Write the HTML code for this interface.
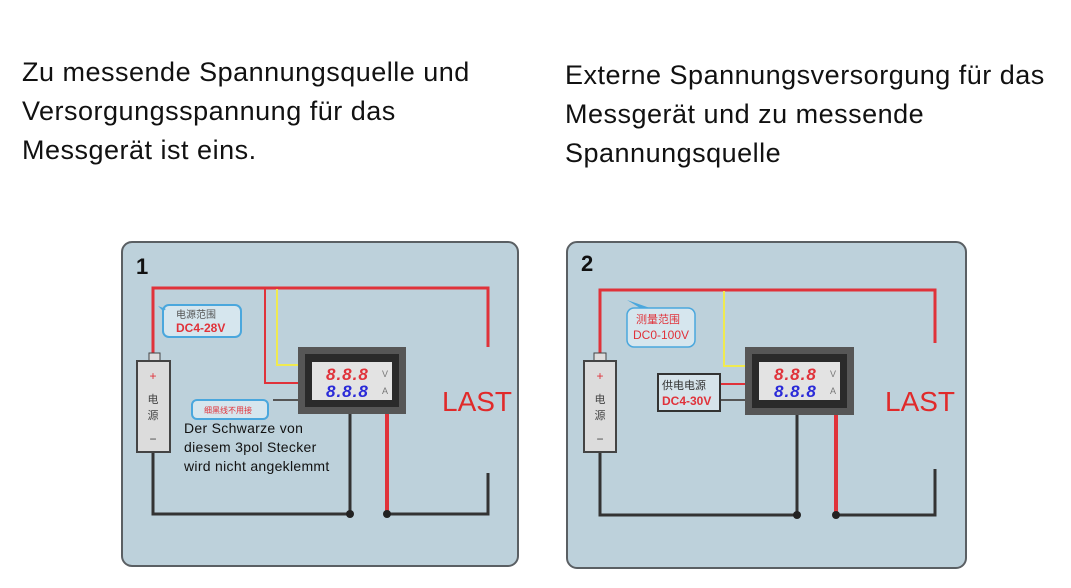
<!DOCTYPE html>
<html><head><meta charset="utf-8"><style>
html,body{margin:0;padding:0;background:#fff;}
svg{display:block}
</style></head><body>
<svg width="1071" height="588" viewBox="0 0 1071 588" xmlns="http://www.w3.org/2000/svg" font-family="Liberation Sans, Noto Sans CJK SC, sans-serif">
<g font-size="27" fill="#111" letter-spacing="0.5">
<text x="22" y="81">Zu messende Spannungsquelle und</text>
<text x="22" y="120">Versorgungsspannung für das</text>
<text x="22" y="159">Messgerät ist eins.</text>
<text x="565" y="84">Externe Spannungsversorgung für das</text>
<text x="565" y="123">Messgerät und zu messende</text>
<text x="565" y="162">Spannungsquelle</text>
</g>

<!-- Panel 1 -->
<rect x="122" y="242" width="396" height="324" rx="10" fill="#bdd1db" stroke="#5a5f63" stroke-width="2"/>
<text x="136" y="274" font-size="22" font-weight="bold" fill="#111">1</text>
<g fill="none" stroke-linejoin="miter">
<polyline points="153,353 153,288 488,288 488,347" stroke="#e0323a" stroke-width="3"/>
<polyline points="265,288 265,383 300,383" stroke="#e0323a" stroke-width="2"/>
<polyline points="277,289 277,365 300,365" stroke="#f0ea50" stroke-width="2"/>
<line x1="273" y1="400" x2="300" y2="400" stroke="#555" stroke-width="2"/>
<polyline points="153,452 153,514 350,514 350,413" stroke="#333" stroke-width="3"/>
<line x1="387" y1="413" x2="387" y2="514" stroke="#e0323a" stroke-width="4"/>
<polyline points="387,514 488,514 488,473" stroke="#333" stroke-width="3"/>
</g>
<circle cx="350" cy="514" r="4" fill="#222"/><circle cx="387" cy="514" r="4" fill="#222"/>
<rect x="149" y="353" width="11" height="8" fill="#ddd" stroke="#444"/>
<rect x="137" y="361" width="33" height="91" fill="#dcdcdc" stroke="#444" stroke-width="2"/>
<text x="153" y="380" font-size="12" fill="#e0323a" text-anchor="middle">+</text>
<text x="153" y="403" font-size="11" fill="#444" text-anchor="middle">电</text>
<text x="153" y="419" font-size="11" fill="#444" text-anchor="middle">源</text>
<text x="153" y="443" font-size="12" fill="#444" text-anchor="middle">−</text>
<rect x="298" y="347" width="108" height="67" fill="#565656"/>
<rect x="305" y="354" width="94" height="53" fill="#2a2a2a"/>
<rect x="312" y="362" width="80" height="38" fill="#e3e3e3"/>
<text x="326" y="380" font-size="17" font-style="italic" font-weight="bold" fill="#e0323a" letter-spacing="1">8.8.8</text>
<text x="326" y="397" font-size="17" font-style="italic" font-weight="bold" fill="#2a2ad8" letter-spacing="1">8.8.8</text>
<text x="382" y="377" font-size="9" fill="#777">V</text><text x="382" y="394" font-size="9" fill="#777">A</text>
<rect x="163" y="305" width="78" height="32" rx="6" fill="#d6e6ee" stroke="#4aa7dd" stroke-width="2"/>
<polygon points="163,311 158,306 166,309" fill="#4aa7dd"/>
<text x="176" y="318" font-size="10" fill="#555">电源范围</text>
<text x="176" y="332" font-size="12" font-weight="bold" fill="#e0323a">DC4-28V</text>
<rect x="192" y="400" width="76" height="19" rx="5" fill="#d6e6ee" stroke="#4aa7dd" stroke-width="2"/>
<text x="204" y="413" font-size="8" fill="#e0323a">细黑线不用接</text>
<g font-size="14" fill="#111" letter-spacing="0.3"><text x="184" y="433">Der Schwarze von</text><text x="184" y="452">diesem 3pol Stecker</text><text x="184" y="471">wird nicht angeklemmt</text></g>
<text x="442" y="411" font-size="28" fill="#e02a2a">LAST</text>

<!-- Panel 2 -->
<rect x="567" y="242" width="399" height="326" rx="10" fill="#bdd1db" stroke="#5a5f63" stroke-width="2"/>
<text x="581" y="271" font-size="22" font-weight="bold" fill="#111">2</text>
<g fill="none">
<polyline points="600,353 600,290 935,290 935,343" stroke="#e0323a" stroke-width="3"/>
<polyline points="724,291 724,366 745,366" stroke="#f0ea50" stroke-width="2"/>
<line x1="720" y1="384" x2="745" y2="384" stroke="#e0323a" stroke-width="2"/>
<line x1="720" y1="400" x2="745" y2="400" stroke="#555" stroke-width="2"/>
<polyline points="600,452 600,515 797,515 797,415" stroke="#333" stroke-width="3"/>
<line x1="836" y1="415" x2="836" y2="515" stroke="#e0323a" stroke-width="4"/>
<polyline points="836,515 935,515 935,469" stroke="#333" stroke-width="3"/>
</g>
<circle cx="797" cy="515" r="4" fill="#222"/><circle cx="836" cy="515" r="4" fill="#222"/>
<rect x="594" y="353" width="12" height="8" fill="#ddd" stroke="#444"/>
<rect x="584" y="361" width="32" height="91" fill="#dcdcdc" stroke="#444" stroke-width="2"/>
<text x="600" y="380" font-size="12" fill="#e0323a" text-anchor="middle">+</text>
<text x="600" y="403" font-size="11" fill="#444" text-anchor="middle">电</text>
<text x="600" y="419" font-size="11" fill="#444" text-anchor="middle">源</text>
<text x="600" y="443" font-size="12" fill="#444" text-anchor="middle">−</text>
<rect x="745" y="347" width="109" height="68" fill="#565656"/>
<rect x="752" y="354" width="95" height="54" fill="#2a2a2a"/>
<rect x="759" y="362" width="81" height="38" fill="#e3e3e3"/>
<text x="774" y="380" font-size="17" font-style="italic" font-weight="bold" fill="#e0323a" letter-spacing="1">8.8.8</text>
<text x="774" y="397" font-size="17" font-style="italic" font-weight="bold" fill="#2a2ad8" letter-spacing="1">8.8.8</text>
<text x="830" y="377" font-size="9" fill="#777">V</text><text x="830" y="394" font-size="9" fill="#777">A</text>
<rect x="627" y="308" width="68" height="39" rx="7" fill="#d6e6ee" stroke="#4aa7dd" stroke-width="1.5"/>
<polygon points="640,308 627,300 650,308" fill="#4aa7dd"/>
<text x="636" y="323" font-size="11" fill="#e0323a">测量范围</text>
<text x="633" y="339" font-size="12" fill="#e0323a">DC0-100V</text>
<rect x="658" y="374" width="62" height="37" fill="#d6e3ea" stroke="#333" stroke-width="2"/>
<text x="662" y="389" font-size="11" fill="#333">供电电源</text>
<text x="662" y="405" font-size="12" font-weight="bold" fill="#e0323a">DC4-30V</text>
<text x="885" y="411" font-size="28" fill="#e02a2a">LAST</text>
</svg>
</body></html>
